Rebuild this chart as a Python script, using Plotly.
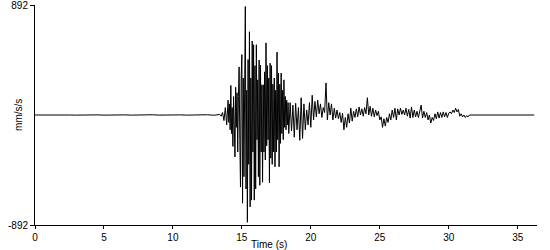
import plotly.graph_objects as go

# ---- data ----
y_limit = 892
x_ticks = [0, 5, 10, 15, 20, 25, 30, 35]

# quiet pre-event part: one sample every 0.5 s from 0 s
pre_t0, pre_dt = 0.0, 0.5
pre_event = [0, 1, -1, 1, -1, 0, -1, 1, -1, 1, -1, 1, 0, 1, -1, 1,
             -1, 2, -1, 1, -2, 1, -1, 2, -1, 2, -2]

# P-wave onset: one sample every 0.1 s from 13.4 s
p_t0, p_dt = 13.4, 0.1
p_wave = [5, -10, 20, -45, 60, -80]

# strong shaking: one sample every 0.05 s from 14.0 s
s_t0, s_dt = 14.0, 0.05
s_wave = [120, -60, 90, -120, 240, -150, 60, -255, 150, -90,
          -340, 225, -100, 180, -300, 150, 390, -200, -585, 300,
          490, -715, 300, -500, 620, 880, -600, 200, -870, 450,
          -400, 675, -745, 300, -690, 600, -300, 570, -690, 400,
          -600, 570, -200, 285, -500, 445, -570, 405, -300, 245,
          -545, 245, -300, 350, -365, 585, -250, 400, -200, 300,
          -550, 420, -350, 400, -400, 250, -300, 300, -420, 200,
          -300, 510, -200, 340, -420, 250, -230, 340, -150, 200,
          -200, 285, -100, 150, -120, 120, -80, 100, -150, 60]

# coda: one sample every 0.1 s from 18.5 s
c_t0, c_dt = 18.5, 0.1
coda = [100, -130, 80, -180, 95, -120, 60, -205, 140,
        -190, 90, -120, 40, -80, 100, -100, 160, -40, 110,
        -15, 120, 10, 90, -20, 60, 20, 260, -40, 100,
        0, 90, -40, 55, -25, 40, -30, 20, -60, 15,
        -120, -20, -100, 10, -65, 55, -50, 30, -20, 50,
        -15, 65, 0, 50, -10, 60, 10, 140, 0, 70,
        -10, 55, -15, 40, -5, 30, -40, -15, -100, -30,
        -90, -20, -60, 10, -40, 40, -20, 55, -40, 50,
        0, 55, 5, 40, 0, 55, -10, 45, -25, 65,
        -20, 40, -15, 30, -20, 35, 80, -25, 30, -20,
        20, -40, 0, -65, -20, -45, 10, -30, 25, -25,
        20, -20, 25, -15, 20, -20, 15, 25, 10, 40,
        20, 55, 25, 45, -10, 10, -15, 0, -20, -5,
        -15, 0]

# quiet tail: one sample every 0.5 s from 31.7 s
post_t0, post_dt = 31.7, 0.5
post_event = [0, 1, -1, 1, -1, 1, -1, 1, -1, 0]

x_title = "Time (s)"
y_title = "mm/s/s"

# ---- assemble the trace ----
segments = [(pre_t0, pre_dt, pre_event), (p_t0, p_dt, p_wave),
            (s_t0, s_dt, s_wave), (c_t0, c_dt, coda),
            (post_t0, post_dt, post_event)]
t, v = [], []
for t0, dt, vals in segments:
    t += [t0 + i * dt for i in range(len(vals))]
    v += vals

fig = go.Figure(go.Scatter(x=t, y=v, mode="lines",
                           line=dict(color="black", width=1),
                           hoverinfo="skip", showlegend=False))

fam = "Liberation Sans, Arial, sans-serif"
font = dict(family=fam, size=10, color="black")
title_font = dict(family=fam, size=10, color="black")
fig.update_layout(
    width=550, height=250,
    margin=dict(l=35, r=13, t=5, b=25),
    paper_bgcolor="white", plot_bgcolor="white",
    font=font,
    xaxis=dict(range=[0, 36.4], tickvals=x_ticks, ticks="outside", ticklen=3,
               tickcolor="black", showline=True, linecolor="black", linewidth=1,
               showgrid=False, zeroline=False, tickfont=font, automargin=False),
    yaxis=dict(range=[-y_limit, y_limit], tickvals=[-y_limit, y_limit],
               ticktext=[f"-{y_limit}", f"{y_limit}"], ticks="outside", ticklen=4,
               tickcolor="black", showline=True, linecolor="black", linewidth=1,
               showgrid=False, zeroline=False, tickfont=font, automargin=False,
               ticklabeloverflow="allow"),
    annotations=[
        dict(text=x_title, xref="paper", yref="paper", x=0.466, y=-0.09,
             xanchor="center", yanchor="middle", showarrow=False, font=title_font,
             borderpad=0),
        dict(text=y_title, xref="paper", yref="paper", x=-0.034, y=0.5,
             xanchor="center", yanchor="middle", textangle=-90, showarrow=False,
             font=title_font),
    ],
)

fig.write_html("out.html")
